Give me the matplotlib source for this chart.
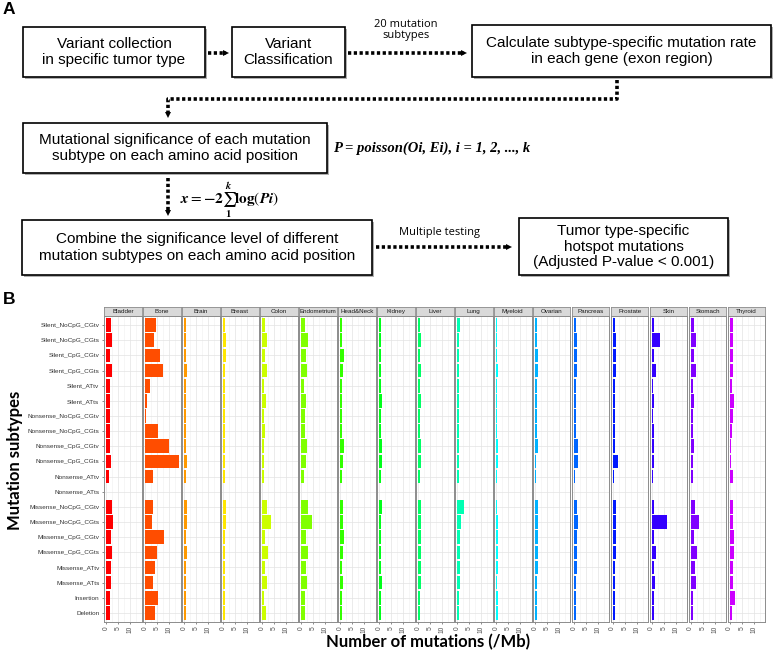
import colorsys
import matplotlib
matplotlib.use("Agg")
import matplotlib.pyplot as plt
from matplotlib.patches import Rectangle

plt.rcParams['font.family'] = ['Liberation Sans', 'DejaVu Sans']
plt.rcParams['mathtext.fontset'] = 'stix'

# ---- data (mutations / Mb), rows top -> bottom ----
subtypes = ['Silent_NoCpG_CGtv', 'Silent_NoCpG_CGts', 'Silent_CpG_CGtv', 'Silent_CpG_CGts',
            'Silent_ATtv', 'Silent_ATts', 'Nonsense_NoCpG_CGtv', 'Nonsense_NoCpG_CGts',
            'Nonsense_CpG_CGtv', 'Nonsense_CpG_CGts', 'Nonsense_ATtv', 'Nonsense_ATts',
            'Missense_NoCpG_CGtv', 'Missense_NoCpG_CGts', 'Missense_CpG_CGtv', 'Missense_CpG_CGts',
            'Missense_ATtv', 'Missense_ATts', 'Insertion', 'Deletion']

tumor_types = ['Bladder', 'Bone', 'Brain', 'Breast', 'Colon', 'Endometrium', 'Head&Neck',
               'Kidney', 'Liver', 'Lung', 'Myeloid', 'Ovarian', 'Pancreas', 'Prostate',
               'Skin', 'Stomach', 'Thyroid']

bladder = [1.9, 2.4, 1.8, 2.4, 1.5, 1.5, 1.5, 1.5, 1.8, 2.2, 1.3, 0.2,
           2.6, 2.9, 2.1, 2.4, 1.9, 1.9, 1.6, 1.6]
bone = [4.4, 3.7, 6.2, 7.3, 2.0, 0.9, 0.6, 5.2, 9.8, 14.0, 3.3, 0.1,
        3.3, 3.0, 8.0, 4.8, 4.0, 3.3, 5.5, 4.1]
brain = [0.8, 1.0, 0.9, 1.1, 0.8, 0.9, 0.8, 0.8, 1.0, 1.1, 0.9, 0.05,
         1.1, 1.1, 1.0, 1.1, 0.9, 0.9, 0.8, 0.9]
breast = [0.8, 1.2, 1.2, 0.8, 0.8, 0.8, 0.8, 0.8, 0.8, 0.8, 0.8, 0.05,
          1.3, 1.3, 0.8, 0.8, 0.8, 0.8, 0.8, 0.8]
colon = [1.1, 2.0, 1.3, 2.0, 0.9, 1.7, 1.0, 1.1, 0.9, 0.9, 1.0, 0.1,
         2.0, 3.7, 1.4, 2.4, 1.3, 2.1, 1.0, 1.7]
endometrium = [1.6, 2.9, 1.9, 2.4, 1.4, 2.0, 1.7, 1.7, 2.6, 2.3, 1.3, 0.1,
               2.9, 4.6, 2.3, 2.9, 1.9, 2.6, 1.6, 1.7]
head_neck = [1.0, 1.0, 1.6, 1.1, 0.9, 1.0, 0.9, 0.9, 1.9, 1.4, 0.9, 0.1,
             1.4, 1.1, 1.6, 1.1, 1.0, 1.1, 1.0, 0.9]
kidney = [0.7, 1.0, 1.0, 1.0, 0.7, 1.1, 0.7, 0.7, 1.1, 1.1, 0.7, 0.05,
          1.3, 1.0, 1.0, 1.0, 0.9, 1.1, 0.7, 0.7]
liver = [0.9, 1.1, 1.0, 1.4, 0.9, 1.1, 0.9, 1.0, 1.1, 1.1, 0.9, 0.1,
         1.4, 1.3, 1.3, 1.3, 1.3, 1.4, 0.9, 0.9]
lung = [1.4, 0.9, 1.0, 1.1, 0.9, 1.0, 1.0, 0.9, 1.0, 1.0, 0.7, 0.1,
        3.1, 1.6, 1.3, 1.3, 1.3, 1.3, 0.7, 0.7]
myeloid = [0.6, 0.6, 0.6, 1.1, 0.6, 0.6, 0.6, 0.6, 1.0, 1.1, 0.6, 0.05,
           0.6, 0.9, 0.9, 0.9, 0.7, 0.6, 1.1, 0.7]
ovarian = [0.9, 0.9, 1.3, 1.3, 1.0, 1.0, 0.9, 0.9, 1.3, 0.7, 0.7, 0.05,
           1.3, 1.3, 1.3, 1.3, 1.3, 0.9, 0.9, 0.9]
pancreas = [1.0, 1.3, 1.3, 1.3, 0.9, 1.0, 1.0, 1.0, 1.6, 1.7, 0.7, 0.05,
            1.3, 1.6, 1.3, 1.3, 1.3, 1.0, 1.0, 1.0]
prostate = [0.9, 1.3, 1.4, 1.4, 0.9, 1.0, 0.9, 0.9, 1.1, 2.0, 0.6, 0.05,
            1.3, 1.4, 1.4, 1.4, 1.1, 1.1, 0.9, 0.9]
skin = [1.0, 3.6, 1.0, 1.7, 0.6, 1.0, 0.6, 1.1, 1.1, 1.1, 0.6, 0.05,
        1.1, 6.4, 1.0, 1.9, 1.1, 1.3, 1.0, 1.0]
stomach = [1.3, 2.1, 1.3, 2.1, 1.1, 1.3, 1.0, 1.1, 1.3, 1.1, 1.1, 0.1,
           1.9, 3.3, 1.3, 2.4, 1.9, 2.0, 1.1, 1.1]
thyroid = [1.3, 1.3, 1.3, 1.3, 1.0, 1.9, 1.3, 1.0, 0.6, 0.7, 1.4, 0.05,
           1.4, 1.4, 1.7, 1.7, 1.4, 1.4, 2.1, 1.0]

rates = [bladder, bone, brain, breast, colon, endometrium, head_neck, kidney, liver,
         lung, myeloid, ovarian, pancreas, prostate, skin, stomach, thyroid]

W, H = 778, 654
fig = plt.figure(figsize=(W / 100, H / 100), dpi=100)

# ---------------- panel A : flow chart (pixel coords) ----------------
ax0 = fig.add_axes([0, 0, 1, 1])
ax0.set_xlim(0, W)
ax0.set_ylim(H, 0)
ax0.axis('off')


def box(x0, y0, x1, y1, text, ls=1.25):
    ax0.add_patch(Rectangle((x0 + 2, y0 + 2), x1 - x0, y1 - y0, color='#b0b0b0', lw=0))
    ax0.add_patch(Rectangle((x0, y0), x1 - x0, y1 - y0, facecolor='white',
                            edgecolor='black', lw=1.2))
    ax0.text((x0 + x1) / 2, (y0 + y1) / 2, text, ha='center', va='center',
             fontsize=11, linespacing=ls)


def dotted(xs, ys, head):
    ax0.plot(xs, ys, color='black', lw=2.6, ls=(0, (0.9, 0.7)), solid_capstyle='butt')
    ax0.plot(xs[-1], ys[-1], marker=head, color='black', ms=5, mew=0)


ax0.text(9, 9, 'A', fontsize=12.5, fontweight='bold', ha='center', va='center')
ax0.text(9, 300, 'B', fontsize=12.5, fontweight='bold', ha='center', va='center')

box(23, 27, 205, 77, 'Variant collection\nin specific tumor type')
box(232, 27, 345, 77, 'Variant\nClassification')
box(472, 25, 771, 77, 'Calculate subtype-specific mutation rate\nin each gene (exon region)')
box(23, 123, 327, 173, 'Mutational significance of each mutation\nsubtype on each amino acid position')
box(22, 220, 372, 275, 'Combine the significance level of different\nmutation subtypes on each amino acid position')
box(519, 218, 728, 275, 'Tumor type-specific\nhotspot mutations\n(Adjusted P-value < 0.001)', ls=1.15)

dotted([208, 226], [53, 53], '>')
dotted([348, 464], [53, 53], '>')
dotted([617, 617, 168, 168], [80, 99, 99, 115], 'v')
dotted([168, 168], [178, 213], 'v')
dotted([376, 509], [247, 247], '>')

ax0.text(406, 30, '20 mutation\nsubtypes', ha='center', va='center', fontsize=8,
         family='Open Sans', linespacing=1.05)
ax0.text(440, 232, 'Multiple testing', ha='center', va='center', fontsize=8,
         family='Open Sans')

ax0.text(333, 148, 'P = poisson(Oi, Ei), i = 1, 2, ..., k', ha='left', va='center',
         fontsize=10.5, family='Liberation Serif', fontweight='bold', style='italic')
ax0.text(180, 200, r'$\mathbfit{x} = \mathbf{-2}\sum_{\mathbf{1}}^{\mathbfit{k}}\mathbf{log}(\mathbfit{Pi})$',
         ha='left', va='center', fontsize=11)

# ---------------- panel B : faceted bars ----------------
px_left0, px_pitch, px_w = 104.3, 38.98, 37.4
px_top, px_bottom, px_strip = 316, 622, 307

for i, (name, vals) in enumerate(zip(tumor_types, rates)):
    left = (px_left0 + i * px_pitch) / W
    ax = fig.add_axes([left, 1 - px_bottom / H, px_w / W, (px_bottom - px_top) / H])
    r, g, b = colorsys.hsv_to_rgb(i * 0.05, 1, 1)
    ax.barh(range(len(subtypes)), vals, height=0.9, color=(r, g, b), lw=0, zorder=3)
    ax.set_xlim(-0.7, 14.7)
    ax.set_ylim(len(subtypes) - 0.4, -0.6)
    ax.set_xticks([0, 5, 10])
    ax.set_xticks([2.5, 7.5, 12.5], minor=True)
    ax.set_yticks(range(len(subtypes)))
    ax.set_axisbelow(True)
    ax.grid(which='major', color='#e3e3e3', lw=0.5)
    ax.grid(which='minor', axis='x', color='#f0f0f0', lw=0.4)
    ax.tick_params(which='minor', length=0)
    ax.tick_params(axis='x', labelsize=4.8, labelcolor='#4d4d4d', rotation=90,
                   length=1.5, width=0.4, pad=1.5, color='#333333')
    ax.tick_params(axis='y', labelsize=4.6, labelcolor='#333333', length=1.5,
                   width=0.4, pad=2, color='#333333')
    if i == 0:
        ax.set_yticklabels(subtypes)
    else:
        ax.set_yticklabels([])
        ax.tick_params(axis='y', length=0)
    for sp in ax.spines.values():
        sp.set_color('#8c8c8c')
        sp.set_linewidth(0.7)

    # facet strip
    sax = fig.add_axes([left, 1 - px_top / H, px_w / W, (px_top - px_strip) / H])
    sax.set_facecolor('#d9d9d9')
    sax.set_xticks([])
    sax.set_yticks([])
    for sp in sax.spines.values():
        sp.set_color('#8c8c8c')
        sp.set_linewidth(0.6)
    sax.text(0.5, 0.5, name, ha='center', va='center', fontsize=4.5,
             color='#1a1a1a', transform=sax.transAxes)

fig.text(428 / W, 1 - 642 / H, 'Number of mutations (/Mb)', ha='center', va='center',
         fontsize=12, fontweight='bold', family='Lato')
fig.text(15 / W, 1 - 460 / H, 'Mutation subtypes', ha='center', va='center',
         fontsize=12, fontweight='bold', family='Lato', rotation=90)

fig.savefig('out.png', dpi=100)
